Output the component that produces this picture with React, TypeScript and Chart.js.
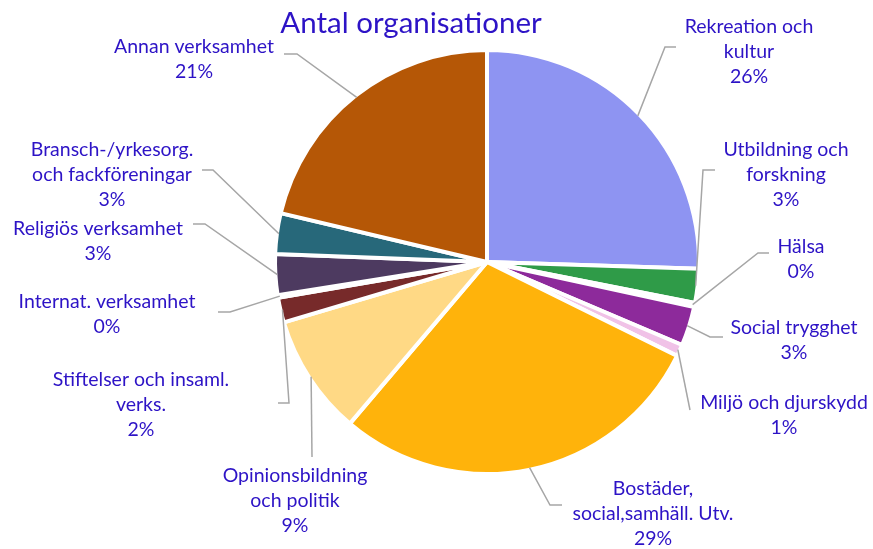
import React, { useEffect, useRef } from "react";
import { Chart, registerables } from "chart.js";

Chart.register(...registerables);

const title = "Antal organisationer";

const categories = [
  "Rekreation och kultur",
  "Utbildning och forskning",
  "Hälsa",
  "Social trygghet",
  "Miljö och djurskydd",
  "Bostäder, social,samhäll. Utv.",
  "Opinionsbildning och politik",
  "Stiftelser och insaml. verks.",
  "Internat. verksamhet",
  "Religiös verksamhet",
  "Bransch-/yrkesorg. och fackföreningar",
  "Annan verksamhet",
];

// share of organisations (percent)
const values = [25.5, 2.6, 0.3, 3.0, 0.9, 28.9, 9.2, 1.9, 0.2, 3.1, 3.1, 21.3];

const percentLabels = ["26%", "3%", "0%", "3%", "1%", "29%", "9%", "2%", "0%", "3%", "3%", "21%"];

// how each category name is wrapped in the label
const labelLines = [
  ["Rekreation och", "kultur"],
  ["Utbildning och", "forskning"],
  ["Hälsa"],
  ["Social trygghet"],
  ["Miljö och djurskydd"],
  ["Bostäder,", "social,samhäll. Utv."],
  ["Opinionsbildning", "och politik"],
  ["Stiftelser och insaml.", "verks."],
  ["Internat. verksamhet"],
  ["Religiös verksamhet"],
  ["Bransch-/yrkesorg.", "och fackföreningar"],
  ["Annan verksamhet"],
];

const colors = [
  "#8E94F2",
  "#2F9B48",
  "#A8E39C",
  "#8D2A9B",
  "#F0C2E7",
  "#FFB30B",
  "#FFD985",
  "#772A2A",
  "#6E8E2A",
  "#4D3A60",
  "#27687A",
  "#B55706",
];

// label placement: text centre x, first line centre y, leader elbow, leader end
const labelLayout = [
  { x: 749, y: 27, ex: 665, ey: 47, hx: 676 },
  { x: 786, y: 150, ex: 703, ey: 170, hx: 715 },
  { x: 801, y: 247, ex: 758, ey: 253, hx: 769 },
  { x: 794, y: 328, ex: 710, ey: 337, hx: 723 },
  { x: 784, y: 403, ex: 690, ey: 410, hx: 690 },
  { x: 653, y: 489, ex: 550, ey: 505, hx: 562 },
  { x: 295, y: 476, ex: 312, ey: 457, hx: 312 },
  { x: 141, y: 380, ex: 289, ey: 403, hx: 278 },
  { x: 107, y: 302, ex: 230, ey: 312, hx: 218 },
  { x: 98, y: 229, ex: 205, ey: 224, hx: 193 },
  { x: 112, y: 150, ex: 213, ey: 170, hx: 202 },
  { x: 194, y: 47, ex: 297, ey: 54, hx: 284 },
];

const TEXT_COLOR = "#2D13C6";
const FONT = "Lato, 'Noto Sans', sans-serif";

const labelPlugin = {
  id: "pieLabels",
  afterDatasetsDraw(chart: any) {
    const ctx = chart.ctx;
    const meta = chart.getDatasetMeta(0);
    ctx.save();
    // leader lines
    ctx.strokeStyle = "#A6A6A6";
    ctx.lineWidth = 1.5;
    meta.data.forEach((arc: any, i: number) => {
      const L = labelLayout[i];
      const mid = (arc.startAngle + arc.endAngle) / 2;
      const sx = arc.x + Math.cos(mid) * (arc.outerRadius - 2);
      const sy = arc.y + Math.sin(mid) * (arc.outerRadius - 2);
      ctx.beginPath();
      ctx.moveTo(sx, sy);
      ctx.lineTo(L.ex, L.ey);
      ctx.lineTo(L.hx, L.ey);
      ctx.stroke();
    });
    // labels
    ctx.fillStyle = TEXT_COLOR;
    ctx.textAlign = "center";
    ctx.textBaseline = "middle";
    ctx.font = `19.5px ${FONT}`;
    labelLines.forEach((lines, i) => {
      const L = labelLayout[i];
      const all = [...lines, percentLabels[i]];
      all.forEach((t, k) => {
        ctx.fillText(t, L.x, L.y + k * 25);
      });
    });
    // title
    ctx.font = `29.5px ${FONT}`;
    ctx.fillText(title, 411, 23);
    ctx.restore();
  },
};

export default function App() {
  const ref = useRef<HTMLCanvasElement | null>(null);
  useEffect(() => {
    document.body.style.margin = "0";
    if (!ref.current) return;
    const chart = new Chart(ref.current, {
      type: "pie",
      data: {
        labels: categories,
        datasets: [
          {
            data: values,
            backgroundColor: colors,
            borderColor: "#FFFFFF",
            borderWidth: 4,
            hoverOffset: 0,
          },
        ],
      },
      options: {
        responsive: false,
        animation: false,
        devicePixelRatio: 1,
        layout: { padding: { left: 273, right: 172, top: 48, bottom: 73 } },
        plugins: {
          legend: { display: false },
          tooltip: { enabled: false },
          title: { display: false },
        },
      },
      plugins: [labelPlugin],
    });
    return () => chart.destroy();
  }, []);
  return (
    <div style={{ position: "absolute", left: 0, top: 0, width: 873, height: 549, background: "#fff" }}>
      <canvas ref={ref} width={873} height={549} />
    </div>
  );
}
